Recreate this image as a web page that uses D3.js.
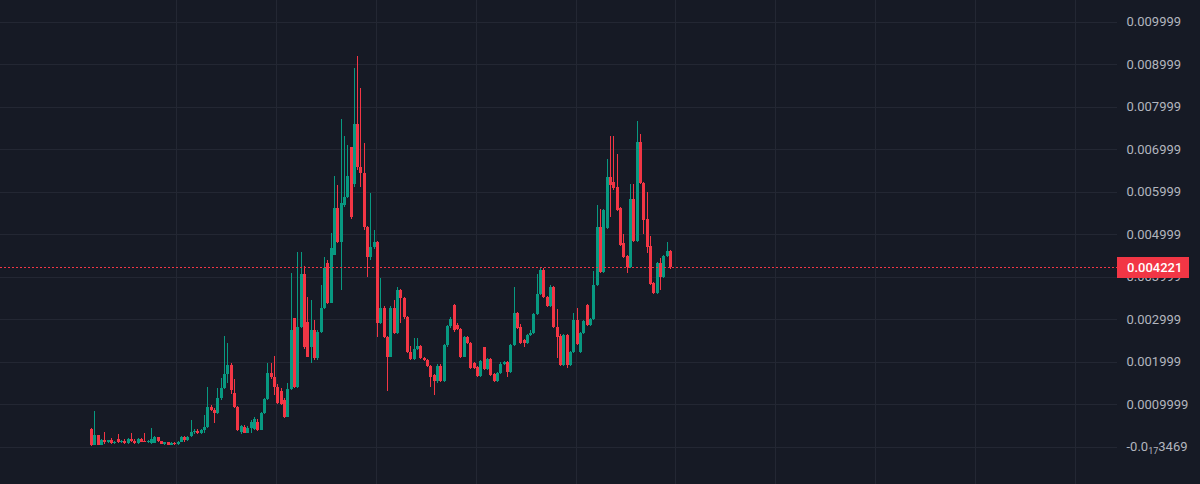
<!DOCTYPE html>
<meta charset="utf-8" />
<style>
  body {
    margin: 0;
    background: #161a25;
    overflow: hidden;
  }
  svg {
    display: block;
    font: 13px Roboto, sans-serif;
  }
</style>
<body>
<svg id="chart"></svg>
<script src="https://cdnjs.cloudflare.com/ajax/libs/d3/7.8.5/d3.min.js"></script>
<script>
// one row per candle: [open, high, low, close]
var ohlc = [
  [0.000420,0.000430,0.000025,0.000050],
  [0.000050,0.000845,0.000030,0.000265],
  [0.000265,0.000280,0.000035,0.000050],
  [0.000050,0.000170,0.000040,0.000160],
  [0.000160,0.000350,0.000070,0.000100],
  [0.000100,0.000160,0.000080,0.000150],
  [0.000150,0.000200,0.000070,0.000090],
  [0.000090,0.000140,0.000070,0.000120],
  [0.000190,0.000300,0.000080,0.000110],
  [0.000110,0.000160,0.000090,0.000140],
  [0.000140,0.000170,0.000060,0.000090],
  [0.000090,0.000200,0.000070,0.000190],
  [0.000190,0.000330,0.000100,0.000140],
  [0.000140,0.000180,0.000060,0.000080],
  [0.000080,0.000200,0.000070,0.000180],
  [0.000180,0.000200,0.000110,0.000120],
  [0.000140,0.000320,0.000100,0.000110],
  [0.000110,0.000150,0.000090,0.000130],
  [0.000080,0.000440,0.000060,0.000190],
  [0.000090,0.000250,0.000080,0.000220],
  [0.000220,0.000230,0.000120,0.000130],
  [0.000130,0.000140,0.000060,0.000070],
  [0.000070,0.000110,0.000050,0.000100],
  [0.000100,0.000110,0.000040,0.000050],
  [0.000050,0.000100,0.000040,0.000090],
  [0.000090,0.000100,0.000040,0.000060],
  [0.000060,0.000130,0.000050,0.000120],
  [0.000120,0.000250,0.000100,0.000230],
  [0.000230,0.000260,0.000110,0.000150],
  [0.000150,0.000260,0.000130,0.000240],
  [0.000260,0.000620,0.000240,0.000345],
  [0.000345,0.000420,0.000300,0.000380],
  [0.000380,0.000420,0.000300,0.000330],
  [0.000330,0.000420,0.000310,0.000390],
  [0.000390,0.000750,0.000330,0.000470],
  [0.000470,0.001410,0.000450,0.000940],
  [0.000940,0.000980,0.000850,0.000870],
  [0.000870,0.000920,0.000560,0.000800],
  [0.000800,0.001385,0.000780,0.001150],
  [0.001150,0.001620,0.001100,0.001385],
  [0.001385,0.002610,0.001350,0.001715],
  [0.001715,0.002445,0.001500,0.001930],
  [0.001930,0.001960,0.001250,0.001340],
  [0.001270,0.001600,0.000900,0.000940],
  [0.000940,0.000960,0.000380,0.000400],
  [0.000350,0.000520,0.000300,0.000495],
  [0.000470,0.000500,0.000320,0.000330],
  [0.000330,0.000480,0.000320,0.000450],
  [0.000450,0.000620,0.000330,0.000590],
  [0.000420,0.000700,0.000400,0.000660],
  [0.000590,0.000640,0.000380,0.000400],
  [0.000400,0.000820,0.000390,0.000800],
  [0.000800,0.001150,0.000780,0.001130],
  [0.001130,0.001975,0.001100,0.001740],
  [0.001740,0.001975,0.001600,0.001645],
  [0.001645,0.002140,0.001220,0.001410],
  [0.001410,0.001480,0.001000,0.001035],
  [0.001300,0.001380,0.000980,0.001000],
  [0.001100,0.001150,0.000680,0.000705],
  [0.000705,0.001500,0.000690,0.001360],
  [0.001360,0.004090,0.001330,0.002750],
  [0.003030,0.003030,0.001380,0.001410],
  [0.001410,0.004580,0.001390,0.002820],
  [0.002820,0.004580,0.002800,0.004065],
  [0.004065,0.004250,0.002300,0.002350],
  [0.002940,0.003525,0.002100,0.002115],
  [0.002350,0.003455,0.001975,0.002750],
  [0.002750,0.002985,0.002050,0.002090],
  [0.002090,0.002750,0.002050,0.002700],
  [0.002700,0.003805,0.002680,0.003265],
  [0.003265,0.004465,0.003250,0.004205],
  [0.004325,0.004400,0.003350,0.003385],
  [0.003385,0.005030,0.003370,0.004675],
  [0.004510,0.006370,0.004500,0.005615],
  [0.005615,0.006160,0.004800,0.004820],
  [0.004820,0.007710,0.003690,0.005735],
  [0.005690,0.007310,0.005650,0.005875],
  [0.005875,0.007100,0.005850,0.006370],
  [0.007050,0.007050,0.005350,0.005400],
  [0.006180,0.008900,0.006100,0.007590],
  [0.007590,0.009190,0.006500,0.006580],
  [0.006580,0.008435,0.006110,0.006440],
  [0.006440,0.007145,0.005100,0.005170],
  [0.005170,0.005200,0.003995,0.004465],
  [0.004465,0.005970,0.004400,0.004700],
  [0.004700,0.005100,0.004650,0.004820],
  [0.004820,0.004850,0.002585,0.002915],
  [0.002915,0.003970,0.002880,0.003265],
  [0.003265,0.003300,0.002550,0.002585],
  [0.002585,0.002600,0.001300,0.002115],
  [0.002115,0.003300,0.002100,0.003265],
  [0.003265,0.003455,0.002650,0.002680],
  [0.002680,0.003750,0.002650,0.003690],
  [0.003690,0.003720,0.002915,0.003500],
  [0.003500,0.003520,0.003000,0.003055],
  [0.003055,0.003080,0.002200,0.002235],
  [0.002235,0.002375,0.002040,0.002070],
  [0.002070,0.002560,0.002040,0.002300],
  [0.002300,0.002560,0.002280,0.002375],
  [0.002375,0.002400,0.002060,0.002090],
  [0.002090,0.002110,0.002020,0.002045],
  [0.002045,0.002070,0.001880,0.001910],
  [0.001910,0.001930,0.001410,0.001645],
  [0.001690,0.001720,0.001220,0.001550],
  [0.001550,0.001950,0.001500,0.001910],
  [0.001910,0.001950,0.001520,0.001550],
  [0.001550,0.002420,0.001530,0.002395],
  [0.002395,0.002870,0.002350,0.002845],
  [0.002845,0.003050,0.002800,0.003010],
  [0.003340,0.003360,0.002700,0.002750],
  [0.002870,0.002900,0.002750,0.002775],
  [0.002775,0.002800,0.002090,0.002115],
  [0.002115,0.002600,0.002100,0.002585],
  [0.002585,0.002600,0.002420,0.002445],
  [0.002445,0.002470,0.001830,0.001855],
  [0.001975,0.002000,0.001830,0.001855],
  [0.001880,0.001900,0.001640,0.001665],
  [0.001665,0.002050,0.001650,0.002020],
  [0.002350,0.002350,0.001800,0.001830],
  [0.001830,0.002090,0.001810,0.002070],
  [0.002070,0.002090,0.001670,0.001690],
  [0.001715,0.001740,0.001530,0.001550],
  [0.001550,0.001760,0.001520,0.001740],
  [0.001740,0.002000,0.001700,0.001950],
  [0.001950,0.002020,0.001930,0.002000],
  [0.002000,0.002020,0.001640,0.001760],
  [0.001760,0.002420,0.001740,0.002395],
  [0.002395,0.003760,0.002370,0.003150],
  [0.003150,0.003180,0.002780,0.002800],
  [0.002820,0.002890,0.002420,0.002445],
  [0.002515,0.002530,0.002350,0.002445],
  [0.002445,0.002650,0.002420,0.002630],
  [0.002630,0.002750,0.002610,0.002680],
  [0.002680,0.003150,0.002660,0.003125],
  [0.003125,0.004065,0.003100,0.003590],
  [0.003590,0.004230,0.003570,0.004160],
  [0.004160,0.004200,0.003500,0.003525],
  [0.003525,0.003550,0.003290,0.003315],
  [0.003315,0.003800,0.003290,0.003760],
  [0.003760,0.003780,0.002800,0.002820],
  [0.002820,0.003240,0.002090,0.002585],
  [0.002610,0.002640,0.001900,0.001930],
  [0.001930,0.002650,0.001900,0.002630],
  [0.002630,0.002650,0.001860,0.001930],
  [0.001930,0.002260,0.001900,0.002235],
  [0.002235,0.003150,0.002200,0.002985],
  [0.002985,0.003260,0.002400,0.002420],
  [0.002235,0.002700,0.002200,0.002680],
  [0.002680,0.002980,0.002650,0.002960],
  [0.003340,0.003360,0.002850,0.002870],
  [0.002870,0.003020,0.002850,0.003000],
  [0.003000,0.004130,0.002980,0.003800],
  [0.003805,0.005690,0.003780,0.005170],
  [0.005170,0.005600,0.004090,0.004110],
  [0.004110,0.005600,0.004090,0.005570],
  [0.005150,0.006770,0.005120,0.006345],
  [0.006345,0.007310,0.005405,0.006160],
  [0.006230,0.007310,0.006050,0.006090],
  [0.006110,0.006880,0.005540,0.005570],
  [0.005615,0.005640,0.004730,0.004750],
  [0.004800,0.005010,0.004440,0.004465],
  [0.004490,0.004500,0.004090,0.004230],
  [0.004230,0.006180,0.004200,0.005830],
  [0.005830,0.006180,0.004820,0.004840],
  [0.004840,0.007665,0.004820,0.007170],
  [0.007170,0.007355,0.006180,0.006200],
  [0.006200,0.006220,0.005010,0.005335],
  [0.005360,0.005990,0.004560,0.004700],
  [0.004725,0.004960,0.003800,0.003830],
  [0.003850,0.003870,0.003600,0.003620],
  [0.003620,0.004350,0.003600,0.004325],
  [0.004325,0.004440,0.003690,0.003995],
  [0.003995,0.004520,0.003970,0.004490],
  [0.004490,0.004820,0.004460,0.004610],
  [0.004610,0.004630,0.004180,0.004221]
];

var tickValues = [0.009999, 0.008999, 0.007999, 0.006999, 0.005999, 0.004999,
                  0.003999, 0.002999, 0.001999, 0.0009999, -3.469e-20];
var tickLabels = ["0.009999", "0.008999", "0.007999", "0.006999", "0.005999", "0.004999",
                  "0.003999", "0.002999", "0.001999", "0.0009999", "-0.0|17|3469"];
var lastPrice = 0.004221;
var lastLabel = "0.004221";
// time grid lines, in candle index units
var gridIdx = [25.5, 55.5, 85.5, 115.5, 145.5, 175.5, 205.5, 235.5, 265.5, 295.5];

var width = 1200, height = 484;
var paneRight = 1117;
var upColor = "#089981", downColor = "#f23645";

var svg = d3.select("#chart")
  .attr("width", width)
  .attr("height", height)
  .attr("shape-rendering", "crispEdges");

svg.append("rect")
  .attr("width", width).attr("height", height)
  .attr("fill", "#161a25");

var x = d3.scaleLinear().domain([0, 300]).range([91.5, 1089.6]);
var y = d3.scaleLinear().domain([0, 0.01]).range([446.7, 21.7]);

// grid
svg.append("g").selectAll("line").data(gridIdx).enter().append("line")
  .attr("x1", d => Math.round(x(d)) + 0.5).attr("x2", d => Math.round(x(d)) + 0.5)
  .attr("y1", 0).attr("y2", height)
  .attr("stroke", "#232733");

svg.append("g").selectAll("line").data(tickValues).enter().append("line")
  .attr("x1", 0).attr("x2", paneRight)
  .attr("y1", d => Math.round(y(d)) + 0.5).attr("y2", d => Math.round(y(d)) + 0.5)
  .attr("stroke", "#232733");

// candles
var candle = svg.append("g").selectAll("g").data(ohlc).enter().append("g")
  .attr("fill", d => d[3] >= d[0] ? upColor : downColor);

candle.append("rect")
  .attr("x", (d, i) => Math.floor(x(i)))
  .attr("width", 1)
  .attr("y", d => Math.round(y(d[1])))
  .attr("height", d => Math.max(1, Math.round(y(d[2])) - Math.round(y(d[1]))));

candle.append("rect")
  .attr("x", (d, i) => Math.floor(x(i)) - 1)
  .attr("width", 3)
  .attr("y", d => Math.round(y(Math.max(d[0], d[3]))))
  .attr("height", d => Math.max(1, Math.round(y(Math.min(d[0], d[3]))) - Math.round(y(Math.max(d[0], d[3])))));

// price axis
var axis = svg.append("g")
  .attr("transform", "translate(1126.5,0)")
  .call(d3.axisRight(y).tickValues(tickValues).tickSize(0).tickPadding(0)
    .tickFormat((d, i) => tickLabels[i]));
axis.select(".domain").remove();
axis.selectAll("text")
  .attr("fill", "#b2b5be")
  .style("font", "13px Roboto, sans-serif")
  .each(function(d, i) {
    var parts = tickLabels[i].split("|");
    if (parts.length < 3) return;
    var t = d3.select(this).text(parts[0]);
    t.append("tspan").attr("font-size", "9px").attr("dy", 3).text(parts[1]);
    t.append("tspan").attr("dy", -3).text(parts[2]);
  });

// last price line and label
var ly = Math.round(y(lastPrice)) + 0.5;
svg.append("line")
  .attr("x1", 0).attr("x2", paneRight)
  .attr("y1", ly).attr("y2", ly)
  .attr("stroke", downColor)
  .attr("stroke-dasharray", "2 2");

svg.append("rect")
  .attr("x", paneRight).attr("y", ly - 10.5)
  .attr("width", 72).attr("height", 21)
  .attr("fill", downColor);

svg.append("text")
  .attr("x", 1127).attr("y", ly)
  .attr("dy", "0.35em")
  .attr("fill", "#ffffff")
  .style("font", "500 13px Roboto, sans-serif")
  .text(lastLabel);
</script>
</body>
